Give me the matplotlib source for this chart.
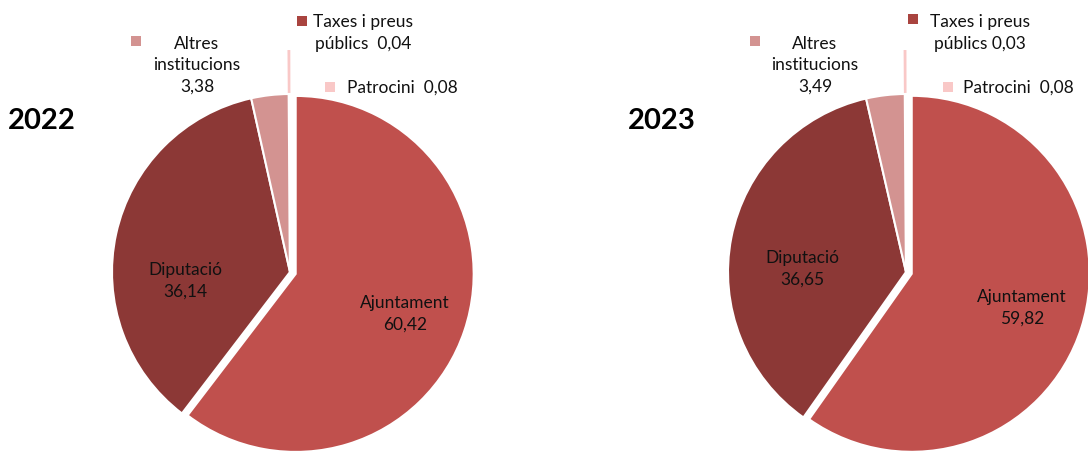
import numpy as np
from matplotlib import pyplot as plt

plt.rcParams['font.family'] = ['Lato', 'DejaVu Sans']

# funding sources, in the order they are drawn (clockwise from the top)
categories = ['Ajuntament', 'Diputació', 'Altres\ninstitucions', 'Patrocini', 'Taxes i preus\npúblics']
years = ['2022', '2023']
values_2022 = [60.42, 36.14, 3.38, 0.08, 0.04]
values_2023 = [59.82, 36.65, 3.49, 0.08, 0.03]

colors = ['#C0504D', '#8C3836', '#D39391', '#F9C8C7', '#A9443F']

W, H = 1088, 452
R = 178
explode = [6, 0, 0, 43, 0]   # in pixels (axes use pixel units)

# pie centres and label offsets (relative to centre, image y downwards)
layout = {
    '2022': dict(center=(290, 273), year=(-282, -152),
                 sq_alt=(-154, -231), txt_alt=(-93, -208),
                 sq_tax=(12, -251), txt_tax=(23, -240), tax_sep='  ',
                 sq_pat=(40, -185), txt_pat=(57, -185),
                 dip=(-105, 8), aju=(115, 41)),
    '2023': dict(center=(906, 273), year=(-278, -152),
                 sq_alt=(-151, -231), txt_alt=(-91, -208),
                 sq_tax=(7, -253), txt_tax=(24, -240), tax_sep=' ',
                 sq_pat=(42, -185), txt_pat=(57, -185),
                 dip=(-104, -4), aju=(116, 35)),
}


def fmt(v):
    return f'{v:.2f}'.replace('.', ',')


fig = plt.figure(figsize=(W / 100, H / 100), dpi=100)
ax = fig.add_axes([0, 0, 1, 1])


def draw_pie(year, values):
    lay = layout[year]
    cx, cy = lay['center']

    def P(off):
        return cx + off[0], H - (cy + off[1])

    wedges, _ = ax.pie(values, colors=colors, startangle=90, counterclock=False,
                       explode=explode, center=(cx, H - cy), radius=R,
                       wedgeprops=dict(edgecolor='white', linewidth=1.5))
    # the tiny patrocini slice sits behind the others
    wedges[3].set_edgecolor(colors[3])
    wedges[3].set_linewidth(1.4)
    wedges[3].set_zorder(0.5)

    tk = dict(fontsize=12.5, color='#111111', zorder=5)
    ax.text(*P(lay['year']), year, fontsize=21, fontweight='bold',
            ha='left', va='center', zorder=5)

    ax.text(*P(lay['dip']), f'{categories[1]}\n{fmt(values[1])}', ha='center',
            va='center', linespacing=1.4, **tk)
    ax.text(*P(lay['aju']), f'{categories[0]}\n{fmt(values[0])}', ha='center',
            va='center', linespacing=1.4, **tk)

    sq = dict(marker='s', s=48, zorder=5, linewidths=0)
    ax.scatter(*P(lay['sq_alt']), color=colors[2], **sq)
    ax.text(*P(lay['txt_alt']), f'{categories[2]}\n{fmt(values[2])}', ha='center',
            va='center', linespacing=1.4, **tk)

    ax.scatter(*P(lay['sq_tax']), color=colors[4], **sq)
    ax.text(*P(lay['txt_tax']), f'{categories[4]}{lay["tax_sep"]}{fmt(values[4])}',
            ha='left', va='center', multialignment='center', linespacing=1.4, **tk)

    ax.scatter(*P(lay['sq_pat']), color=colors[3], **sq)
    ax.text(*P(lay['txt_pat']), f'{categories[3]}  {fmt(values[3])}', ha='left',
            va='center', **tk)


draw_pie(years[0], values_2022)
draw_pie(years[1], values_2023)

ax.set_xlim(0, W)
ax.set_ylim(0, H)
ax.set_aspect('auto')
ax.axis('off')

fig.savefig('out.png', dpi=100, facecolor='white')
